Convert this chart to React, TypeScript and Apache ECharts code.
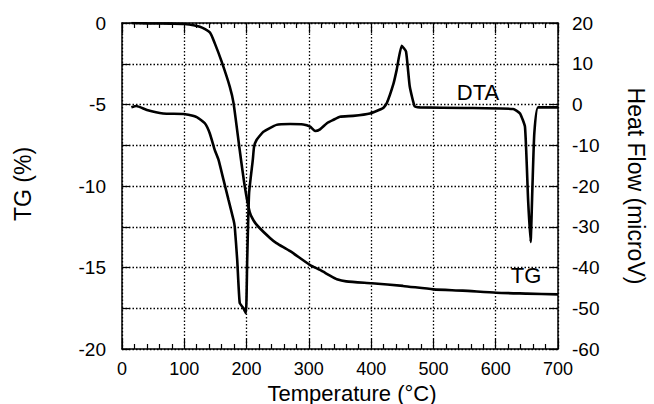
import React, { useEffect, useRef } from "react";
import * as echarts from "echarts";

// TG curve (temperature °C, TG %)
const tgTemp = [15, 40, 80, 100, 125, 141, 149, 160, 173, 179, 189, 197, 205, 211, 219, 238, 248, 270, 302, 318, 334, 345, 360, 401, 451, 500, 547, 601, 650, 700];
const tgValue = [0, -0.02, -0.04, -0.06, -0.23, -0.57, -1.25, -2.37, -3.9, -4.9, -7.8, -10.0, -11.6, -12.1, -12.5, -13.2, -13.5, -14.0, -14.85, -15.15, -15.5, -15.72, -15.85, -15.97, -16.13, -16.34, -16.42, -16.55, -16.6, -16.65];

// DTA curve (temperature °C, heat flow microV)
const dtaTemp = [15, 23, 40, 66, 100, 120, 133, 141, 149, 155, 163, 171, 179, 181, 185, 189, 195, 199, 201, 204, 210, 212, 216, 227, 248, 270, 291, 302, 310, 318, 329, 339, 350, 371, 398, 419, 425, 436, 441, 449, 456, 462, 470, 478, 550, 628, 639, 647, 652, 656, 659, 662, 668, 700];
const dtaValue = [-0.7, -0.37, -1.35, -2.2, -2.33, -3.1, -4.6, -7.1, -11.2, -13.6, -18.5, -23.4, -28.3, -30.0, -38.2, -48.7, -50.0, -51.2, -38.2, -21.8, -13.6, -10.4, -8.7, -6.7, -5.0, -4.8, -4.9, -5.45, -6.5, -6.1, -4.6, -3.8, -3.0, -2.8, -2.2, -0.9, 0.3, 5.2, 8.5, 14.4, 13.0, 4.4, -0.5, -0.7, -0.85, -1.1, -2.2, -5.5, -23.4, -33.7, -20, -7.0, -0.7, -0.7];

const xTicks = { min: 0, max: 700, interval: 100 };
const tgAxis = { min: -20, max: 0, interval: 2.5, labelStep: 5 };
const hfAxis = { min: -60, max: 20, interval: 10 };

const FONT = "Liberation Sans, Arial, Helvetica, sans-serif";

export default function App() {
  const ref = useRef<HTMLDivElement>(null);
  useEffect(() => {
    if (!ref.current) return;
    const chart = echarts.init(ref.current, null, { renderer: "svg" });
    const tgData = tgTemp.map((t, i) => [t, tgValue[i]]);
    const dtaData = dtaTemp.map((t, i) => [t, dtaValue[i]]);
    const axisLine = { show: true, onZero: false, lineStyle: { color: "#000", width: 1.5 } };
    const gridLine = { show: true, lineStyle: { color: "#000", type: [1.5, 2], width: 1.3 } };
    const labelStyle = { color: "#000", fontSize: 19, fontFamily: FONT };
    const tickStyle = { color: "#000", width: 1.2 };
    chart.setOption({
      animation: false,
      backgroundColor: "#fff",
      grid: { left: 122, right: 96, top: 23, bottom: 55, containLabel: false, outerBoundsMode: "none" },
      xAxis: [
        {
          type: "value",
          position: "bottom",
          ...xTicks,
          axisLine,
          axisTick: { show: true, inside: true, length: 10, lineStyle: tickStyle },
          minorTick: { show: true, splitNumber: 5, length: 5, lineStyle: tickStyle },
          axisLabel: { ...labelStyle, fontSize: 18, margin: 11 },
          splitLine: gridLine,
        },
        {
          type: "value",
          position: "top",
          ...xTicks,
          axisLine,
          axisTick: { show: true, inside: true, length: 10, lineStyle: tickStyle },
          minorTick: { show: true, splitNumber: 5, length: 5, lineStyle: tickStyle },
          axisLabel: { show: false },
          splitLine: { show: false },
        },
      ],
      yAxis: [
        {
          type: "value",
          position: "left",
          min: tgAxis.min,
          max: tgAxis.max,
          interval: tgAxis.interval,
          axisLine,
          axisTick: { show: true, inside: true, length: 8, lineStyle: tickStyle },
          axisLabel: {
            ...labelStyle,
            margin: 16,
            formatter: (v: number) => (v % tgAxis.labelStep === 0 ? String(v) : ""),
          },
          splitLine: gridLine,
        },
        {
          type: "value",
          position: "right",
          min: hfAxis.min,
          max: hfAxis.max,
          interval: hfAxis.interval,
          axisLine,
          axisTick: { show: true, inside: true, length: 8, lineStyle: tickStyle },
          axisLabel: { ...labelStyle, margin: 14 },
          splitLine: { show: false },
        },
      ],
      series: [
        {
          type: "line",
          name: "TG",
          xAxisIndex: 0,
          yAxisIndex: 0,
          data: tgData,
          showSymbol: false,
          smooth: 0.2,
          lineStyle: { color: "#000", width: 2.6 },
        },
        {
          type: "line",
          name: "DTA",
          xAxisIndex: 0,
          yAxisIndex: 1,
          data: dtaData,
          showSymbol: false,
          smooth: 0.15,
          lineStyle: { color: "#000", width: 2.6 },
        },
      ],
      graphic: [
        { type: "text", x: 23, y: 184, rotation: Math.PI / 2, style: { text: "TG (%)", fill: "#000", fontSize: 23, fontFamily: FONT, textAlign: "center", textVerticalAlign: "middle" } },
        { type: "text", x: 636, y: 186, rotation: -Math.PI / 2, style: { text: "Heat Flow (microV)", fill: "#000", fontSize: 23, fontFamily: FONT, textAlign: "center", textVerticalAlign: "middle" } },
        { type: "text", x: 352, y: 393, style: { text: "Temperature (°C)", fill: "#000", fontSize: 22, fontFamily: FONT, textAlign: "center", textVerticalAlign: "middle" } },
        { type: "text", x: 478, y: 92, style: { text: "DTA", fill: "#000", fontSize: 22, fontFamily: FONT, textAlign: "center", textVerticalAlign: "middle" } },
        { type: "text", x: 526, y: 275, style: { text: "TG", fill: "#000", fontSize: 22, fontFamily: FONT, textAlign: "center", textVerticalAlign: "middle" } },
      ],
    });
    return () => chart.dispose();
  }, []);
  return <div ref={ref} style={{ position: "fixed", left: 0, top: 0, width: 654, height: 404 }} />;
}
